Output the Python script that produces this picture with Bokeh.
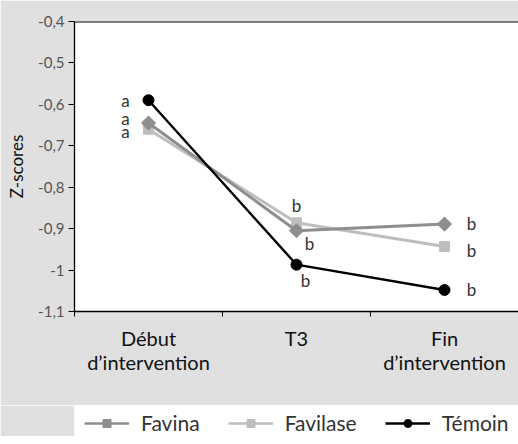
from bokeh.plotting import figure
from bokeh.models import Range1d, FixedTicker, Span, Legend, LegendItem
from bokeh.layouts import column
from bokeh.core.properties import value
from bokeh.embed import file_html
from bokeh.resources import INLINE
import math

# ---- data ----
categories = ["Début\nd’intervention", "T3", "Fin\nd’intervention"]
series_names = ["Favina", "Favilase", "Témoin"]
favina = [-0.645, -0.905, -0.889]
favilase = [-0.660, -0.886, -0.943]
temoin = [-0.590, -0.987, -1.048]
letters_favina = ["a", "b", "b"]
letters_favilase = ["a", "b", "b"]
letters_temoin = ["a", "b", "b"]
y_ticks = [-1.1, -1.0, -0.9, -0.8, -0.7, -0.6, -0.5, -0.4]
y_tick_labels = ["-1,1", "-1", "-0,9", "-0,8", "-0,7", "-0,6", "-0,5", "-0,4"]
y_label = "Z-scores"

FONT = "Lato"
GREY_BG = "#e0e0e0"
C_FAVINA = "#8e8e8e"
C_FAVILASE = "#bebebe"
C_TEMOIN = "#000000"
TXT = "#333333"

W = 518
xs = [i + 0.5 for i in range(len(categories))]

p = figure(width=W, height=405, x_range=Range1d(0, len(categories)),
           y_range=Range1d(y_ticks[0], y_ticks[-1]),
           output_backend="svg", toolbar_location=None,
           min_border_left=74, min_border_right=0, min_border_top=21, min_border_bottom=94,
           background_fill_color="white", border_fill_color=GREY_BG,
           outline_line_color=None)
p.grid.visible = False

# x axis
xa = p.xaxis[0]
xa.ticker = FixedTicker(ticks=xs, minor_ticks=[float(i) for i in range(len(categories) + 1)])
xa.major_label_overrides = {x: c for x, c in zip(xs, categories)}
xa.major_tick_line_color = None
xa.major_tick_out = 0
xa.major_tick_in = 0
xa.minor_tick_line_color = "black"
xa.minor_tick_out = 5
xa.minor_tick_in = 0
xa.axis_line_color = "black"
xa.axis_line_width = 1.3
xa.major_label_standoff = 9
xa.major_label_text_font = FONT
xa.major_label_text_font_size = "20px"
xa.major_label_text_line_height = 1.0
xa.major_label_text_color = "#111111"

# y axis
ya = p.yaxis[0]
ya.ticker = FixedTicker(ticks=y_ticks, minor_ticks=[])
ya.major_label_overrides = {t: l for t, l in zip(y_ticks, y_tick_labels)}
ya.major_tick_out = 6
ya.major_tick_in = 0
ya.major_tick_line_color = "black"
ya.axis_line_color = "black"
ya.axis_line_width = 1.3
ya.major_label_standoff = 4
ya.major_label_text_font = FONT
ya.major_label_text_font_size = "15px"
ya.major_label_text_color = "#555555"
ya.axis_label = y_label
ya.axis_label_text_font = FONT
ya.axis_label_text_font_size = "17px"
ya.axis_label_text_font_style = "normal"
ya.axis_label_text_color = "#111111"
ya.axis_label_standoff = 8

# top border line
p.add_layout(Span(location=y_ticks[-1], dimension="width", line_color="black", line_width=2))

# series
p.line(xs, favilase, line_color=C_FAVILASE, line_width=3)
p.scatter(xs, favilase, marker="square", size=10, fill_color=C_FAVILASE, line_color=C_FAVILASE)
p.line(xs, favina, line_color=C_FAVINA, line_width=3)
p.scatter(xs, favina, marker="square", angle=math.pi / 4, size=10, fill_color=C_FAVINA, line_color=C_FAVINA)
p.line(xs, temoin, line_color=C_TEMOIN, line_width=2.4)
p.scatter(xs, temoin, marker="circle", size=11, fill_color=C_TEMOIN, line_color=C_TEMOIN)

# significance letters
off_favina = ([-23, 13, 27], [-5, 13, -1])
off_favilase = ([-23, 0, 27], [2, -17, 4])
off_temoin = ([-23, 9, 27], [0, 16, 0])
for vals, letters, (dx, dy) in [(favina, letters_favina, off_favina),
                                 (favilase, letters_favilase, off_favilase),
                                 (temoin, letters_temoin, off_temoin)]:
    p.text(x=xs, y=vals, text=letters, x_offset=dx, y_offset=dy,
           text_font=value(FONT), text_font_size="17px", text_color=TXT,
           text_align="center", text_baseline="middle")

# legend strip
p2 = figure(width=W, height=31, x_range=Range1d(0, 1), y_range=Range1d(0, 1),
            output_backend="svg", toolbar_location=None,
            x_axis_type=None, y_axis_type=None,
            min_border_left=73, min_border_right=0, min_border_top=0, min_border_bottom=0,
            background_fill_color="white", border_fill_color=GREY_BG,
            outline_line_color=None)
p2.grid.visible = False

hx, hy = [-5, -4], [-5, -4]  # kept outside the visible range: legend swatches only
l1 = p2.line(hx, hy, line_color=C_FAVINA, line_width=2.5)
m1 = p2.scatter(hx, hy, marker="square", angle=math.pi / 4, size=7.5, fill_color=C_FAVINA, line_color=C_FAVINA)
l2 = p2.line(hx, hy, line_color=C_FAVILASE, line_width=2.5)
m2 = p2.scatter(hx, hy, marker="square", size=8, fill_color=C_FAVILASE, line_color=C_FAVILASE)
l3 = p2.line(hx, hy, line_color=C_TEMOIN, line_width=2.5)
m3 = p2.scatter(hx, hy, marker="circle", size=8.5, fill_color=C_TEMOIN, line_color=C_TEMOIN)

legend = Legend(items=[LegendItem(label=series_names[0], renderers=[l1, m1]),
                       LegendItem(label=series_names[1], renderers=[l2, m2]),
                       LegendItem(label=series_names[2], renderers=[l3, m3])],
                orientation="horizontal", location=(10, 1),
                glyph_width=45, glyph_height=20, label_standoff=12, spacing=28,
                padding=0, margin=0, border_line_color=None, background_fill_alpha=0,
                label_text_font=FONT, label_text_font_size="21px", label_text_color=TXT)
p2.add_layout(legend)

layout = column(p, p2, spacing=0)
open("out.html", "w").write(file_html(layout, INLINE))
